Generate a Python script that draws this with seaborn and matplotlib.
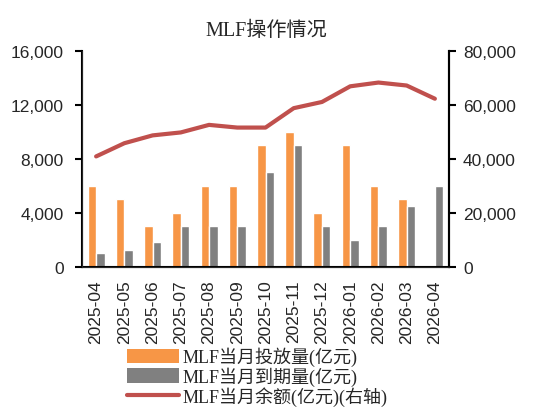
import matplotlib
matplotlib.use("Agg")
import matplotlib.pyplot as plt
import seaborn as sns
import pandas as pd
import numpy as np
from matplotlib.patches import Patch
from matplotlib.lines import Line2D

months = ["2025-04", "2025-05", "2025-06", "2025-07", "2025-08", "2025-09", "2025-10",
          "2025-11", "2025-12", "2026-01", "2026-02", "2026-03", "2026-04"]
launch = [6000, 5000, 3000, 4000, 6000, 6000, 9000, 10000, 4000, 9000, 6000, 5000, 0]
maturity = [1000, 1250, 1820, 3000, 3000, 3000, 7000, 9000, 3000, 2000, 3000, 4500, 6000]
balance = [40900, 45800, 48700, 49800, 52600, 51600, 51600, 58800, 61100, 66900, 68300, 67200, 62300]

lab_launch = "MLF当月投放量(亿元)"
lab_mat = "MLF当月到期量(亿元)"
lab_bal = "MLF当月余额(亿元)(右轴)"

sns.set_style("white")
plt.rcParams['font.family'] = ['Liberation Sans', 'Noto Sans CJK SC']
serif_cjk = ['Liberation Serif', 'Noto Sans CJK SC']
sans = ['Liberation Sans']

c_orange = "#F79646"
c_gray = "#808080"
c_red = "#C0504D"

df = pd.DataFrame({
    "month": months * 2,
    "value": launch + maturity,
    "series": [lab_launch] * len(months) + [lab_mat] * len(months),
})

fig = plt.figure(figsize=(5.33, 4.14), dpi=100)
ax = fig.add_axes([82 / 533, 1 - 267.7 / 414, (449 - 82) / 533, (267.7 - 52) / 414])

sns.barplot(data=df, x="month", y="value", hue="series", order=months,
            palette=[c_orange, c_gray], width=0.6, gap=0, ax=ax, legend=False,
            saturation=1)
ax.set_ylim(0, 16000)
ax.set_xlim(-0.5, len(months) - 0.5)
yt = [0, 4000, 8000, 12000, 16000]
ax.set_yticks(yt)
ax.set_yticklabels([f"{v:,}" for v in yt], fontsize=12.5, family=sans)
ax.set_xticks(range(len(months)))
ax.set_xticklabels(months, rotation=90, fontsize=12.5, family=sans)
ax.tick_params(axis='x', length=0, pad=9)
ax.set_xticks(np.arange(-0.5, len(months)), minor=True)
ax.tick_params(axis='x', which='minor', length=5, width=1.5, direction='out', color='black')
ax.tick_params(axis='y', length=5, width=1.5, direction='out', color='black', left=True, pad=8)
ax.set_xlabel("")
ax.set_ylabel("")
ax.spines["top"].set_visible(False)
for s in ["left", "bottom", "right"]:
    ax.spines[s].set_color("black")
    ax.spines[s].set_linewidth(1.5)

ax2 = ax.twinx()
bdf = pd.DataFrame({"x": np.arange(len(months)), "balance": balance})
sns.lineplot(data=bdf, x="x", y="balance", color=c_red, linewidth=3, ax=ax2)
ax2.set_ylim(0, 80000)
yt2 = [0, 20000, 40000, 60000, 80000]
ax2.set_yticks(yt2)
ax2.set_yticklabels([f"{v:,}" for v in yt2], fontsize=12.5, family=sans)
ax2.tick_params(axis='y', length=5, width=1.5, direction='out', color='black', right=True, pad=5)
ax2.set_ylabel("")
ax2.set_xlabel("")
ax2.spines["top"].set_visible(False)
ax2.spines["right"].set_color("black")
ax2.spines["right"].set_linewidth(1.5)
ax2.set_xlim(-0.5, len(months) - 0.5)

fig.text(0.5, 1 - 31 / 414, "MLF操作情况", ha="center", va="center", fontsize=14.5,
         family=serif_cjk)

handles = [Patch(facecolor=c_orange, edgecolor='none'),
           Patch(facecolor=c_gray, edgecolor='none'),
           Line2D([0], [0], color=c_red, linewidth=3)]
leg = fig.legend(handles, [lab_launch, lab_mat, lab_bal], loc="upper left",
                 bbox_to_anchor=(127 / 533, 1 - 348 / 414), frameon=False,
                 prop={'family': serif_cjk, 'size': 13}, handlelength=2.9,
                 handleheight=0.85, labelspacing=0.0, handletextpad=0.15,
                 borderpad=0, borderaxespad=0)

fig.savefig("out.png", dpi=100)
